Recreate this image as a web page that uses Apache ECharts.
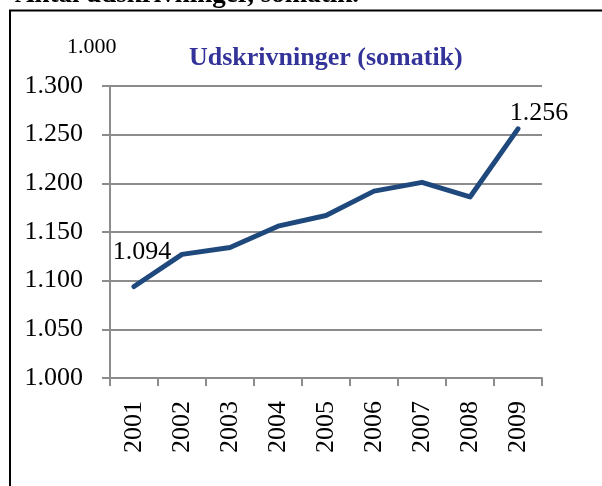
<!DOCTYPE html>
<html>
<head>
<meta charset="utf-8">
<script src="https://cdn.jsdelivr.net/npm/echarts@6/dist/echarts.min.js"></script>
<style>
html,body{margin:0;padding:0;background:#fff;}
#c{width:602px;height:486px;}
</style>
</head>
<body>
<div id="c"></div>
<script>
var categories = ['2001','2002','2003','2004','2005','2006','2007','2008','2009'];
var values = [1094, 1127, 1134, 1156, 1167, 1192, 1201, 1186, 1256];
var labeledIndices = [0, 8];
var yMin = 1000, yMax = 1300, yStep = 50;
var pageTitle = 'Antal udskrivninger, somatik.';
var chartTitle = 'Udskrivninger (somatik)';
var unitLabel = '1.000';

function fmt(v) {
  var s = String(Math.round(v));
  if (s.length > 3) s = s.slice(0, s.length - 3) + '.' + s.slice(s.length - 3);
  return s;
}

var serif = 'Liberation Serif';
var chart = echarts.init(document.getElementById('c'));
var seriesData = values.map(function (v, i) {
  var show = labeledIndices.indexOf(i) >= 0;
  return {
    value: v,
    label: {
      show: show,
      position: 'top',
      offset: i === 0 ? [8, -16] : [21, 3]
    }
  };
});

chart.setOption({
  animation: false,
  backgroundColor: '#fff',
  title: {
    text: chartTitle,
    left: 184, top: 40,
    textStyle: { fontFamily: serif, fontWeight: 'bold', fontSize: 26, color: '#333399' }
  },
  graphic: [
    { type: 'polyline', shape: { points: [[10, 486], [10, 10.5], [602, 10.5]] },
      style: { stroke: '#000', lineWidth: 2, fill: null } },
    { type: 'text', x: 15, y: 9,
      style: { text: pageTitle, fontSize: 27, fontWeight: 'bold', fontFamily: serif, fill: '#000', verticalAlign: 'bottom' } },
    { type: 'text', x: 67, y: 47,
      style: { text: unitLabel, fontSize: 22, fontFamily: serif, fill: '#000', verticalAlign: 'middle' } }
  ],
  grid: { left: 110, right: 60, top: 86, bottom: 108 },
  xAxis: {
    type: 'category',
    data: categories,
    boundaryGap: true,
    axisLine: { show: true, lineStyle: { color: '#8c8c8c', width: 2 } },
    axisTick: { show: true, length: 8, lineStyle: { color: '#8c8c8c', width: 2 } },
    axisLabel: { rotate: 90, margin: 23, fontSize: 26, fontFamily: serif, color: '#000' },
    splitLine: { show: false }
  },
  yAxis: {
    type: 'value',
    min: yMin, max: yMax, interval: yStep,
    axisLine: { show: true, lineStyle: { color: '#8c8c8c', width: 2 } },
    axisTick: { show: true, length: 8, lineStyle: { color: '#8c8c8c', width: 2 } },
    axisLabel: { margin: 27, fontSize: 26, fontFamily: serif, color: '#000', formatter: fmt },
    splitLine: { show: true, lineStyle: { color: '#8c8c8c', width: 2 } }
  },
  series: [{
    type: 'line',
    data: seriesData,
    symbol: 'circle',
    symbolSize: 1,
    showSymbol: true,
    label: {
      show: false,
      fontSize: 26, fontFamily: serif, color: '#000',
      formatter: function (p) { return fmt(p.value); }
    },
    lineStyle: { color: '#1F497D', width: 5, cap: 'round', join: 'round' },
    itemStyle: { color: '#1F497D' },
    z: 5
  }]
});
</script>
</body>
</html>
